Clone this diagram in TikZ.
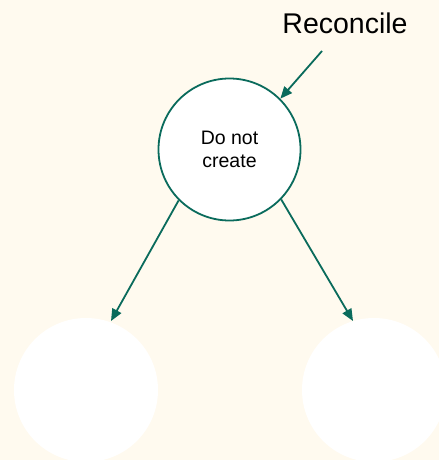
\documentclass[tikz,border=0pt]{standalone}
\usepackage{fontspec}
\setmainfont{Liberation Sans}
\usetikzlibrary{arrows.meta}
\definecolor{paper}{HTML}{FFFAEF}
\definecolor{teal}{HTML}{0A6B5C}
\begin{document}
\begin{tikzpicture}[x=1pt,y=-1pt,
  bubble/.style={circle,draw=teal,line width=1.8pt,fill=white,minimum size=142pt,inner sep=0pt,align=center,
    font=\fontsize{19.5}{23}\selectfont},
  blank/.style={circle,fill=white,minimum size=144pt,inner sep=0pt},
  link/.style={draw=teal,line width=1.8pt,-{Triangle[length=12pt,width=10pt]}}]
  \fill[paper] (0,0) rectangle (439,460);
  \useasboundingbox (0,0) rectangle (439,460);
  \node[bubble] (root) at (229.5,149.5) {Do not\\create};
  \node[blank] (left) at (86,390) {};
  \node[blank] (right) at (374,390) {};
  \node[font=\fontsize{28.5}{32}\selectfont] (label) at (345,23) {Reconcile};
  \coordinate (from) at (322,51);
  \coordinate (leftend) at (111,321);
  \coordinate (rightend) at (353,321);
  \draw[link] (from) -- (root.45);
  \draw[link] (root.225) -- (leftend);
  \draw[link] (root.316) -- (rightend);
\end{tikzpicture}
\end{document}
